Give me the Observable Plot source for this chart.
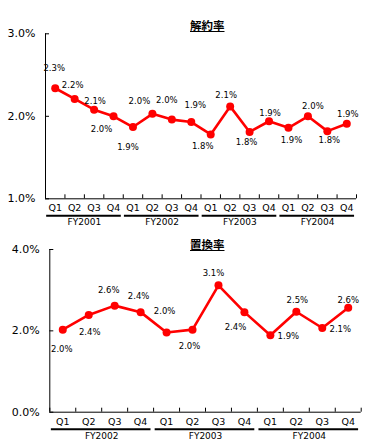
<!DOCTYPE html>
<html>
<head>
<meta charset="utf-8">
<script src="https://cdn.jsdelivr.net/npm/d3@7"></script>
<script src="https://cdn.jsdelivr.net/npm/@observablehq/plot@0.6"></script>
<style>
  html, body { margin: 0; padding: 0; background: #fff; }
  #wrap { position: relative; width: 380px; height: 446px; overflow: hidden; font-family: "DejaVu Sans", sans-serif; background: #fff; }
  .title { position: absolute; z-index: 2; font-family: "Noto Sans CJK JP", sans-serif; font-weight: bold; font-size: 11.5px; text-decoration: underline; color: #000; line-height: 1; }
  .chart { position: absolute; left: 0; z-index: 1; }
</style>
</head>
<body>
<div id="wrap">
  <div class="chart" id="c1" style="top:0px;"></div>
  <div class="chart" id="c2" style="top:230px;"></div>
  <div class="title" id="t1" style="left:190px; top:20px;"></div>
  <div class="title" id="t2" style="left:190px; top:239px;"></div>
</div>
<script>
// ---- data ----
const topTitle = "解約率";
const topQuarters = ["Q1","Q2","Q3","Q4","Q1","Q2","Q3","Q4","Q1","Q2","Q3","Q4","Q1","Q2","Q3","Q4"];
const topYears = ["FY2001","FY2002","FY2003","FY2004"];
const topValues = [2.34, 2.21, 2.08, 2.00, 1.87, 2.03, 1.96, 1.93, 1.78, 2.12, 1.81, 1.94, 1.86, 2.00, 1.82, 1.91];
const topLabels = ["2.3%","2.2%","2.1%","2.0%","1.9%","2.0%","2.0%","1.9%","1.8%","2.1%","1.8%","1.9%","1.9%","2.0%","1.8%","1.9%"];
const topTicks = [1, 2, 3];

const botTitle = "置換率";
const botQuarters = ["Q1","Q2","Q3","Q4","Q1","Q2","Q3","Q4","Q1","Q2","Q3","Q4"];
const botYears = ["FY2002","FY2003","FY2004"];
const botValues = [2.03, 2.39, 2.62, 2.46, 1.96, 2.03, 3.12, 2.46, 1.89, 2.47, 2.07, 2.57];
const botLabels = ["2.0%","2.4%","2.6%","2.4%","2.0%","2.0%","3.1%","2.4%","1.9%","2.5%","2.1%","2.6%"];
const botTicks = [0, 2, 4];

// ---- layout (label offsets in px, relative to each point) ----
const topLabelOffsets = [[-1,-20],[-2,-14],[1,-8],[-12,13],[-5,20],[-13,-13],[-5,-19],[4,-17],[-8,12],[-4,-11],[-3,10],[1,-8],[3,12],[5,-10],[2,9],[1,-9]];
const botLabelOffsets = [[-1,20],[1,17],[-6,-15],[-2,-16],[-2,-21],[-3,17],[-5,-12],[-9,15],[18,1],[1,-11],[18,1],[0,-7]];

const RED = "#f00";

function chart({quarters, years, values, labels, ticks, offsets, width, height, marginLeft, marginRight, marginTop, marginBottom}) {
  const n = quarters.length;
  const yMin = ticks[0], yMax = ticks[ticks.length - 1];
  const idx = d3.range(n);
  const pts = idx.map(i => ({x: i + 0.5, v: values[i], q: quarters[i], l: labels[i]}));
  const groups = years.map((y, g) => ({name: y, x1: g * 4 + 0.06, x2: g * 4 + 3.9, xm: g * 4 + 2}));
  const labelMarks = pts.map((p, i) => Plot.text([p], {
    x: "x", y: "v", text: "l", dx: offsets[i][0], dy: offsets[i][1],
    fontSize: 8.5, fill: "#000"
  }));
  return Plot.plot({
    width, height, marginLeft, marginRight, marginTop, marginBottom,
    style: {fontFamily: "DejaVu Sans, sans-serif", background: "transparent", color: "#000"},
    x: {domain: [0, n], axis: null},
    y: {domain: [yMin, yMax], axis: null},
    marks: [
      // axes lines
      Plot.ruleX([0], {stroke: "#000", strokeWidth: 1}),
      Plot.ruleY([yMin], {stroke: "#000", strokeWidth: 1}),
      // y ticks (inside) and labels
      Plot.ruleY(ticks, {y: d => d, x1: 0, x2: 0, insetRight: -4, stroke: "#000"}),
      Plot.text(ticks, {y: d => d, frameAnchor: "left", dx: -10, textAnchor: "end", text: d => d.toFixed(1) + "%", fontSize: 11, fill: "#000"}),
      // x ticks at category boundaries (inside)
      Plot.ruleX(d3.range(n + 1), {x: d => d, y1: yMin, y2: yMin, insetTop: -4, stroke: "#000"}),
      // quarter labels
      Plot.text(pts, {x: "x", frameAnchor: "bottom", text: "q", dy: 12.5, fontSize: 9.5, fill: "#000"}),
      // fiscal year group underlines and labels
      Plot.ruleY(groups, {y: yMin, x1: "x1", x2: "x2", dy: 17, stroke: "#000", strokeWidth: 2}),
      Plot.text(groups, {x: "xm", frameAnchor: "bottom", text: "name", dy: 26.5, fontSize: 9, fill: "#000"}),
      // series
      Plot.line(pts, {x: "x", y: "v", stroke: RED, strokeWidth: 2.6}),
      Plot.dot(pts, {x: "x", y: "v", r: 4, fill: RED, stroke: "none"}),
      ...labelMarks
    ]
  });
}

document.getElementById("t1").textContent = topTitle;
document.getElementById("t2").textContent = botTitle;

document.getElementById("c1").appendChild(chart({
  quarters: topQuarters, years: topYears, values: topValues, labels: topLabels, ticks: topTicks,
  offsets: topLabelOffsets,
  width: 380, height: 230, marginLeft: 45, marginRight: 24, marginTop: 33.3, marginBottom: 31.7
}));

document.getElementById("c2").appendChild(chart({
  quarters: botQuarters, years: botYears, values: botValues, labels: botLabels, ticks: botTicks,
  offsets: botLabelOffsets,
  width: 380, height: 216, marginLeft: 49.3, marginRight: 19.3, marginTop: 19, marginBottom: 34.3
}));
</script>
</body>
</html>
